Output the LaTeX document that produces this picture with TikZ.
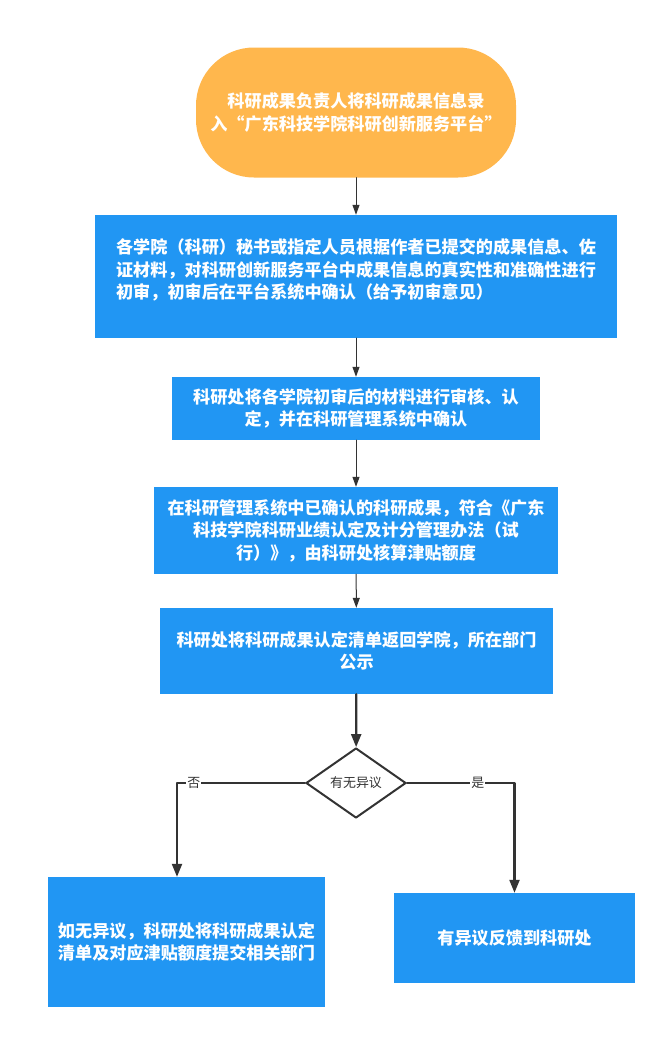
\documentclass[tikz,border=0pt]{standalone}
\usepackage{fontspec}
\setmainfont{Noto Sans CJK SC}
\usetikzlibrary{arrows.meta,shapes.geometric}
\definecolor{boxblue}{RGB}{33,150,243}
\definecolor{startorange}{RGB}{255,183,77}
\definecolor{linegray}{RGB}{51,51,51}
\tikzset{
  stepbox/.style={fill=boxblue,text=white,inner sep=0pt,align=center,
    font=\bfseries\fontsize{17.2}{22.5}\selectfont},
  startbox/.style={stepbox,fill=startorange,rounded corners=58bp},
  thinflow/.style={-{Triangle[length=10bp,width=7bp]},draw=linegray,line width=1bp},
  thickflow/.style={-{Triangle[length=13bp,width=10bp]},draw=linegray,line width=2.2bp},
  branchlabel/.style={fill=white,inner sep=1bp,text=linegray,font=\fontsize{13}{15}\selectfont}
}
\begin{document}
\begin{tikzpicture}[line cap=round,line join=round,x=1bp,y=-1bp]
    \useasboundingbox[fill=white] (0,0) rectangle (667,1039);
    \node[startbox,minimum width=320bp,minimum height=130bp] (entry) at (356,112.5)
      {科研成果负责人将科研成果信息录\\入“广东科技学院科研创新服务平台”};
    \node[stepbox,minimum width=522bp,minimum height=123bp,align=left] (college) at (356,276.5)
      {各学院（科研）秘书或指定人员根据作者已提交的成果信息、佐\\证材料，对科研创新服务平台中成果信息的真实性和准确性进行\\初审，初审后在平台系统中确认（给予初审意见）\\[-7bp]\mbox{}};
    \node[stepbox,minimum width=368bp,minimum height=63bp] (office) at (356,408.5)
      {科研处将各学院初审后的材料进行审核、认\\定，并在科研管理系统中确认};
    \node[stepbox,minimum width=404bp,minimum height=87bp] (subsidy) at (356,530.5)
      {在科研管理系统中已确认的科研成果，符合《广东\\科技学院科研业绩认定及计分管理办法（试\\行）》，由科研处核算津贴额度};
    \node[stepbox,minimum width=393bp,minimum height=86bp] (publish) at (356.5,651)
      {科研处将科研成果认定清单返回学院，所在部门\\公示};
    \node[diamond,draw=linegray,line width=2bp,minimum width=100bp,minimum height=70bp,
      inner sep=0pt,text=linegray,font=\fontsize{13}{15}\selectfont] (objection) at (356,783) {有无异议};
    \node[stepbox,minimum width=277bp,minimum height=130bp] (submit) at (186.5,942)
      {如无异议，科研处将科研成果认定\\清单及对应津贴额度提交相关部门};
    \node[stepbox,minimum width=241bp,minimum height=90bp] (feedback) at (514.5,938)
      {有异议反馈到科研处};
    % connectors
    \draw[thinflow] (entry) -- (college);
    \draw[thinflow] (college) -- (office);
    \draw[thinflow] (office) -- (subsidy);
    \draw[thinflow] (subsidy) -- (publish);
    \draw[thickflow] (publish) -- (objection);
    \draw[thickflow] (objection.west) -| node[branchlabel,pos=0.434] {否} ([xshift=-9.5bp]submit.north);
    \draw[thickflow] (objection.east) -| node[branchlabel,pos=0.33] {是} (feedback.north);
\end{tikzpicture}
\end{document}
